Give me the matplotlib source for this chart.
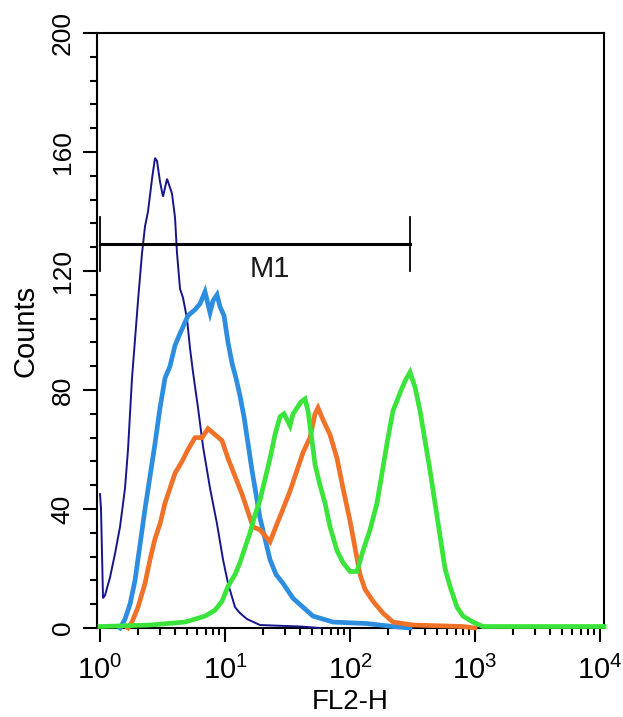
import matplotlib
matplotlib.use("Agg")
import matplotlib.pyplot as plt
import numpy as np
from matplotlib.ticker import FixedLocator, LogLocator, MultipleLocator, NullFormatter

# positions are read in decades of FL2-H (log10), counts in events
dark_decade = [0.000, 0.008, 0.024, 0.040, 0.080, 0.120, 0.160, 0.200, 0.224, 0.256,
               0.280, 0.304, 0.336, 0.360, 0.384, 0.416, 0.440, 0.456, 0.480, 0.504,
               0.536, 0.576, 0.600, 0.616, 0.640, 0.664, 0.696, 0.720, 0.744, 0.784,
               0.824, 0.880, 0.936, 0.984, 1.024, 1.080, 1.120, 1.176, 1.280, 1.600, 1.760]
dark_counts = [45, 40, 10, 11, 17, 25, 34, 47, 60, 84,
               97, 110, 126, 135, 140, 151, 158, 157, 150, 145,
               151, 146, 138, 126, 114, 111, 104, 94, 86, 74,
               61, 47, 35, 23, 15, 7, 5, 3, 1, 0.5, 0]

light_decade = [0.160, 0.200, 0.240, 0.280, 0.320, 0.360, 0.400, 0.440, 0.480, 0.520,
                0.560, 0.600, 0.640, 0.704, 0.760, 0.800, 0.840, 0.880, 0.904, 0.936,
                0.960, 0.992, 1.024, 1.056, 1.088, 1.120, 1.152, 1.184, 1.216, 1.248,
                1.280, 1.320, 1.360, 1.408, 1.464, 1.544, 1.624, 1.704, 1.864, 2.136,
                2.344, 2.480]
light_counts = [0, 3, 8, 16, 28, 40, 51, 62, 74, 84,
                88, 95, 99, 105, 107, 109, 113, 106, 110, 112,
                108, 105, 96, 89, 84, 78, 71, 62, 53, 45,
                37, 30, 23, 18, 15, 10, 7, 4, 2, 1.5,
                0.5, 0]

orange_decade = [0.224, 0.256, 0.304, 0.360, 0.400, 0.440, 0.480, 0.520, 0.560, 0.600,
                 0.656, 0.704, 0.760, 0.816, 0.864, 0.920, 0.976, 1.024, 1.080, 1.136,
                 1.176, 1.224, 1.280, 1.320, 1.360, 1.416, 1.464, 1.520, 1.576, 1.624,
                 1.680, 1.720, 1.744, 1.784, 1.840, 1.896, 1.944, 2.000, 2.040, 2.080,
                 2.120, 2.184, 2.264, 2.344, 2.504, 2.904, 3.000]
orange_counts = [0, 2, 7, 15, 23, 30, 35, 42, 47, 52,
                 56, 60, 64, 64, 67, 65, 63, 57, 51, 45,
                 40, 34, 33, 31, 29, 35, 40, 46, 53, 59,
                 64, 72, 74, 70, 65, 57, 47, 36, 27, 18,
                 13, 9, 5, 2, 1, 0.5, 0]

green_decade = [0.000, 0.400, 0.680, 0.760, 0.840, 0.920, 0.976, 1.024, 1.080, 1.120,
                1.160, 1.200, 1.240, 1.280, 1.320, 1.360, 1.400, 1.440, 1.472, 1.496,
                1.520, 1.544, 1.576, 1.608, 1.640, 1.664, 1.696, 1.720, 1.760, 1.800,
                1.840, 1.896, 1.944, 2.000, 2.056, 2.104, 2.160, 2.216, 2.264, 2.304,
                2.344, 2.400, 2.440, 2.480, 2.520, 2.560, 2.600, 2.640, 2.680, 2.720,
                2.760, 2.800, 2.856, 2.904, 2.984, 3.064, 4.032]
green_counts = [0.5, 1, 2, 3, 4, 6, 9, 14, 18, 22,
                27, 32, 38, 43, 50, 57, 65, 71, 72, 70,
                68, 72, 74, 76, 77, 73, 63, 55, 48, 42,
                34, 26, 22, 19, 19, 26, 33, 42, 54, 64,
                73, 79, 83, 86, 81, 73, 63, 53, 42, 31,
                20, 14, 7, 4, 2, 0.5, 0.5]

y_ticks = [0, 40, 80, 120, 160, 200]
x_ticks = [1, 10, 100, 1000, 10000]
x_tick_labels = [r"$\mathregular{10^0}$", r"$\mathregular{10^1}$", r"$\mathregular{10^2}$",
                 r"$\mathregular{10^3}$", r"$\mathregular{10^4}$"]
m1_range = [1.0, 302.0]
m1_level = 129
m1_bar = [120, 138]

plt.rcParams["font.family"] = ["Liberation Sans", "DejaVu Sans"]

fig = plt.figure(figsize=(6.23, 7.17), dpi=100)
ax = fig.add_axes([97 / 623, 89 / 717, 507 / 623, 595 / 717])

curves = [
    (dark_decade, dark_counts, "#16168a", 1.4),
    (light_decade, light_counts, "#2d8ee0", 3.4),
    (orange_decade, orange_counts, "#ef7228", 3.4),
    (green_decade, green_counts, "#3ae43a", 3.4),
]
for dec, cnt, col, lw in curves:
    ax.plot(10.0 ** np.asarray(dec), cnt, color=col, lw=lw,
            solid_joinstyle="miter", clip_on=False, zorder=3)

# M1 gate marker
ax.plot(m1_range, [m1_level, m1_level], color="black", lw=2.2, zorder=4)
for xv in m1_range:
    ax.plot([xv, xv], m1_bar, color="black", lw=1.3, zorder=4)
ax.text(23, m1_level - 3.5, "M1", fontsize=21, ha="center", va="top", color="#1a1a1a")

ax.set_xscale("log")
ax.set_xlim(0.946, 10765)
ax.set_ylim(0, 200)

ax.xaxis.set_major_locator(FixedLocator(x_ticks))
ax.xaxis.set_minor_locator(LogLocator(base=10, subs=np.arange(2, 10), numticks=20))
ax.xaxis.set_minor_formatter(NullFormatter())
ax.set_xticklabels(x_tick_labels, fontsize=21)

ax.yaxis.set_major_locator(FixedLocator(y_ticks))
ax.yaxis.set_minor_locator(MultipleLocator(8))
ax.set_yticklabels([str(v) for v in y_ticks], fontsize=19, rotation=90, va="center")

ax.tick_params(which="major", direction="out", length=10, width=1.5, pad=6)
ax.tick_params(which="minor", direction="out", length=5, width=1.5)
ax.tick_params(axis="x", which="major", pad=10)

for sp in ax.spines.values():
    sp.set_linewidth(1.5)

ax.set_xlabel("FL2-H", fontsize=20, va="top")
ax.xaxis.set_label_coords(0.5, -0.102)
ax.set_ylabel("Counts", fontsize=21, labelpad=8)

fig.savefig("out.png", dpi=100, facecolor="white")
